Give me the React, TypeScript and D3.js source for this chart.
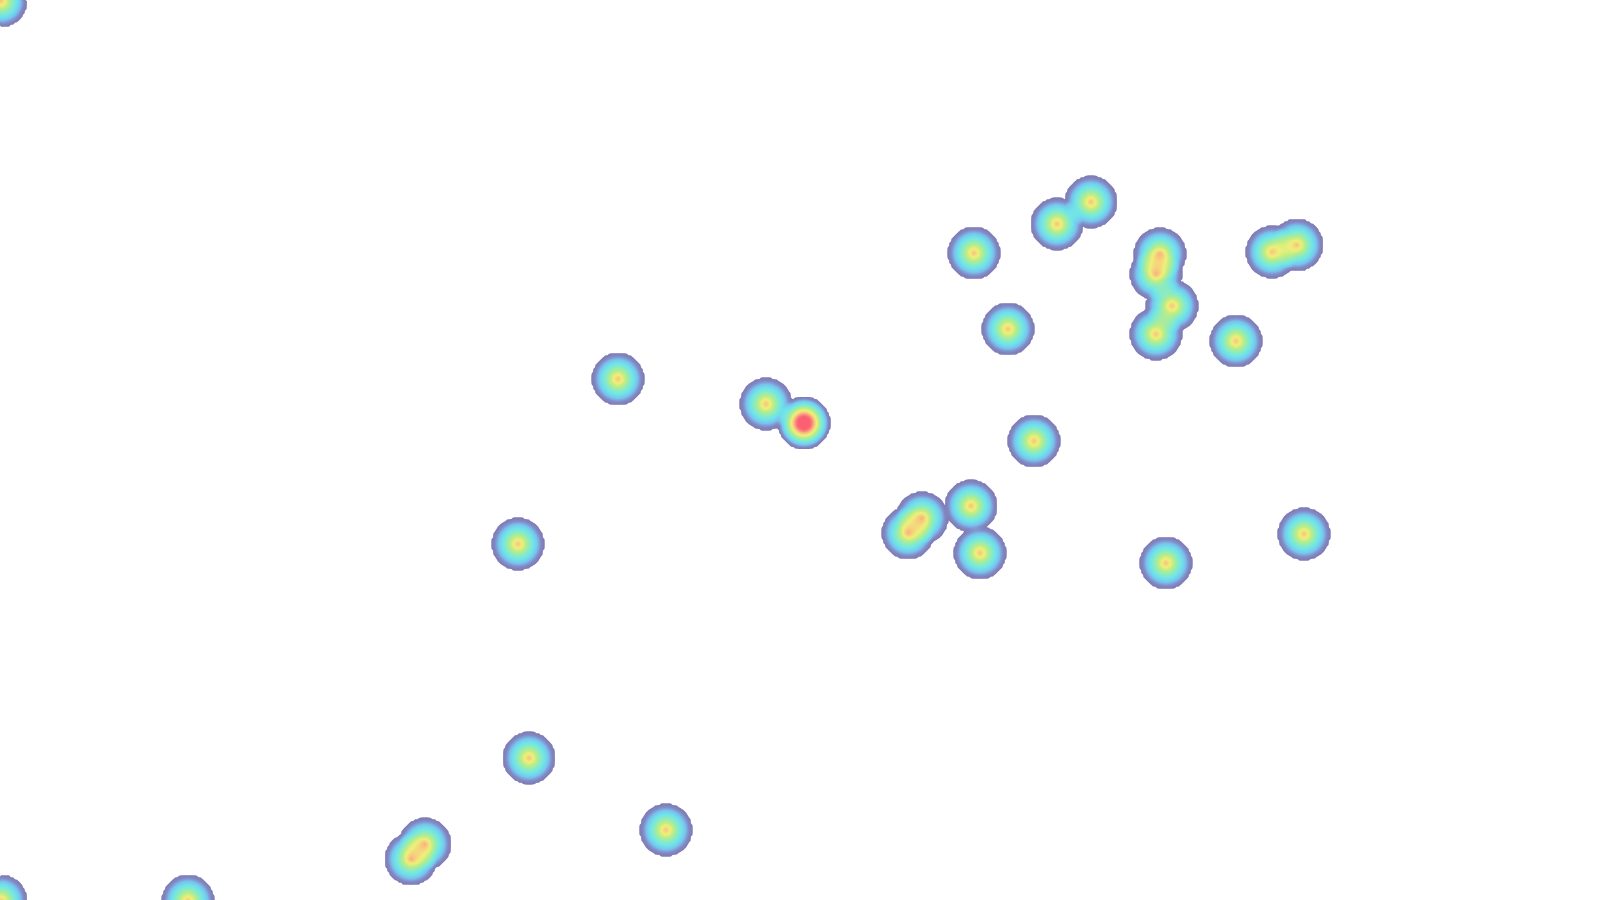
import { useMemo } from "react"
import * as d3 from "d3"

const WIDTH = 1600
const HEIGHT = 900
const RADIUS = 26
const STEP = 2

// heat points (pixel position on the page) and their weight
const pointX = [0, 0, 187, 410, 424, 528, 665, 517, 617, 765, 803, 907, 921, 970, 979, 1033, 973, 1007, 1056, 1090, 1159, 1155, 1171, 1155, 1235, 1271, 1296, 1165, 1303]
const pointY = [0, 900, 900, 858, 843, 757, 829, 543, 378, 403, 422, 532, 517, 505, 552, 440, 252, 328, 223, 201, 253, 273, 305, 333, 340, 251, 244, 562, 533]
const pointWeight = [0.8, 0.8, 0.8, 0.8, 0.8, 0.8, 0.8, 0.8, 0.8, 0.8, 1.3, 0.8, 0.8, 0.8, 0.8, 0.8, 0.8, 0.8, 0.8, 0.8, 0.8, 0.8, 0.8, 0.8, 0.8, 0.8, 0.8, 0.8, 0.8]

// colour ramp over the combined intensity
const rampStops = [0, 0.1, 0.2, 0.32, 0.45, 0.56, 0.67, 0.78, 0.9, 1]
const rampColors = ["#807ab2", "#828cc8", "#78c4ee", "#70e4ea", "#8eecbc", "#bcec86", "#f0f07a", "#f8c47e", "#fc8080", "#fa5e70"]

const App = () => {
  const color = d3.scaleLinear<string>().domain(rampStops).range(rampColors).clamp(true)

  const bands = useMemo(() => {
    const nx = WIDTH / STEP + 1
    const ny = HEIGHT / STEP + 1
    // keep product of (1 - alpha) like stacked alpha blobs
    const rest = new Float64Array(nx * ny).fill(1)
    pointX.forEach((px, p) => {
      const py = pointY[p]
      const w = pointWeight[p]
      const i0 = Math.max(0, Math.floor((px - RADIUS) / STEP))
      const i1 = Math.min(nx - 1, Math.ceil((px + RADIUS) / STEP))
      const j0 = Math.max(0, Math.floor((py - RADIUS) / STEP))
      const j1 = Math.min(ny - 1, Math.ceil((py + RADIUS) / STEP))
      for (let j = j0; j <= j1; j++) {
        for (let i = i0; i <= i1; i++) {
          const d = Math.hypot(i * STEP - px, j * STEP - py)
          if (d >= RADIUS) continue
          const a = Math.min(1, w * (1 - d / RADIUS))
          rest[j * nx + i] *= 1 - a
        }
      }
    })
    const values = Array.from(rest, (r) => 1 - r)
    const thresholds = d3.range(0.004, 1, 0.02)
    const contours = d3.contours().size([nx, ny]).thresholds(thresholds)(values)
    return contours
  }, [])

  const path = d3.geoPath()

  return (
    <svg
      width={WIDTH}
      height={HEIGHT}
      style={{ position: "absolute", left: 0, top: 0, display: "block", background: "#fff" }}
    >
      <g transform={`scale(${STEP})`}>
        {bands.map((c, i) => (
          <path key={i} d={path(c) || ""} fill={color(c.value + 0.01)} stroke="none" />
        ))}
      </g>
    </svg>
  )
}

export default App
